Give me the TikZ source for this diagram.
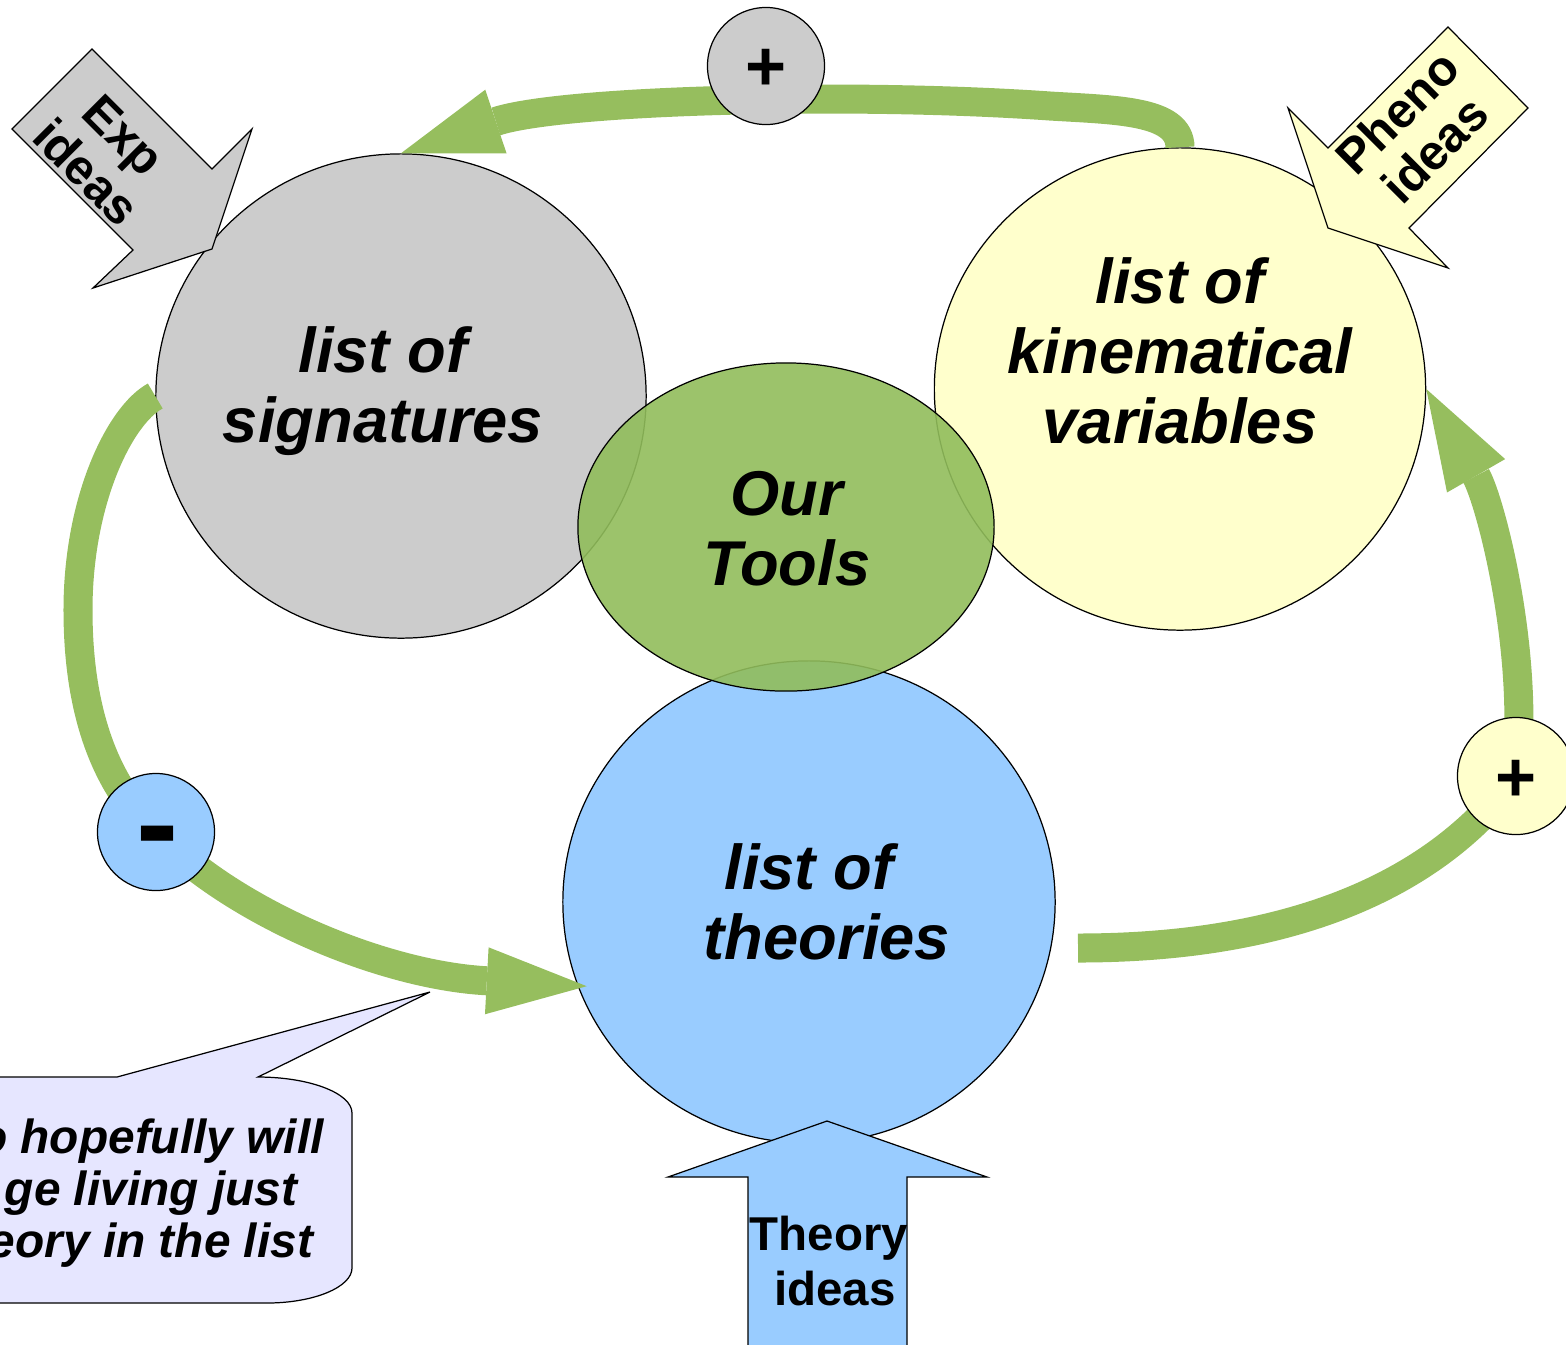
\documentclass[tikz,border=0pt]{standalone}
\usepackage{fontspec}
\setmainfont{Liberation Sans}
\usetikzlibrary{arrows.meta, shapes.geometric, positioning}
\definecolor{sigcol}{HTML}{CCCCCC}
\definecolor{kincol}{HTML}{FFFFCC}
\definecolor{theocol}{HTML}{99CCFF}
\definecolor{notecol}{HTML}{E6E6FF}
\definecolor{toolcol}{RGB}{145,189,91}
\definecolor{loopcol}{RGB}{150,190,94}
\tikzset{
  bigcirc/.style={
    ellipse, draw=black, line width=0.35pt, fill=#1, inner sep=0pt
  },
  bigtext/.style={
    align=center, inner sep=0pt,
    font=\fontsize{18}{20}\selectfont\bfseries\itshape
  },
  signnode/.style={
    circle, draw=black, line width=0.35pt, fill=#1,
    minimum size=1.17cm, inner sep=0pt
  },
  signtext/.style={
    inner sep=0pt, font=\fontsize{20}{24}\selectfont\bfseries
  },
  loopflow/.style={
    draw=loopcol, line width=0.29cm,
    -{Triangle[length=1cm, width=0.67cm, line width=0pt]}
  },
  ideabox/.style={draw=black, line width=0.35pt, fill=#1},
  ideatext/.style={
    align=center, inner sep=0pt,
    font=\fontsize{14}{15}\selectfont\bfseries
  },
}

\begin{document}
\begin{tikzpicture}[x=0.01cm, y=-0.01cm]
  \useasboundingbox (0,0) rectangle (1566,1344);
  \clip (0,0) rectangle (1566,1344);

  % the three lists
  \node[bigcirc=sigcol,  minimum width=4.90cm, minimum height=4.84cm] (sig)  at (401,396) {};
  \node[bigcirc=kincol,  minimum width=4.91cm, minimum height=4.82cm] (kin)  at (1180,389) {};
  \node[bigcirc=theocol, minimum width=4.92cm, minimum height=4.82cm] (theo) at (809,902) {};
  \node[bigcirc=toolcol, fill opacity=0.9, minimum width=4.16cm, minimum height=3.28cm] (tools) at (786,527) {};

  \node[bigtext] (sigtext)   at (383,391)  {list of\\signatures};
  \node[bigtext] (kintext)   at (1180,351) {list of\\kinematical\\variables};
  \node[bigtext] (theotext)  at (818,902)  {list of\hspace*{0.18cm}\\\hspace*{0.18cm}theories};
  \node[bigtext] (tooltext)  at (787,529)  {Our\\Tools};

  % loop arrows
  \coordinate (topbend)   at (1050,106);
  \coordinate (theostart) at (1078,948);
  \draw[loopflow] (kin.north) .. controls (1180,110) and (1115,110) .. (topbend)
    .. controls (850,92) and (560,100) .. (sig.north);
  \draw[loopflow] (sig.west) .. controls (120,415) and (78,500) .. (78,610)
    .. controls (78,720) and (110,790) .. (156,832)
    .. controls (230,910) and (380,975) .. ([xshift=0.09cm]theo.200);
  \draw[loopflow] (theostart) .. controls (1300,948) and (1440,880) .. (1516,776)
    .. controls (1530,650) and (1490,500) .. (kin.east);

  % idea inputs
  \draw[ideabox=sigcol] (92,49) -- (212,169) -- (252,129) -- (212,249)
    -- (93,288) -- (133,250) -- (12,129) -- cycle;
  \draw[ideabox=kincol] (1448,27) -- (1528,108) -- (1409,228) -- (1448,268)
    -- (1328,228) -- (1288,108) -- (1328,148) -- cycle;
  \draw[ideabox=theocol] (827,1121) -- (987,1177) -- (907,1177) -- (907,1360)
    -- (748,1360) -- (748,1177) -- (668,1177) -- cycle;
  \node[ideatext, rotate=-45] (exptext)   at (105,154) {Exp\\ideas};
  \node[ideatext, rotate=45]  (phenotext) at (1416,131) {Pheno\\ideas};
  \node[ideatext, font=\fontsize{13.5}{15.4}\selectfont\bfseries] (theorytext) at (829,1261) {Theory\\\hspace*{0.12cm}ideas};

  % callout
  \draw[ideabox=notecol] (-20,1077) -- (117,1077) -- (430,992) -- (258,1077)
    .. controls (309,1077) and (352,1093) .. (352,1113) -- (352,1268)
    .. controls (352,1287) and (314,1303) .. (267,1303) -- (-20,1303) -- cycle;
  \node[align=center, inner sep=0pt, font=\fontsize{13.6}{14.8}\selectfont\bfseries\itshape]
    (notetext) at (151,1193) {o hopefully will\\ge living just\\eory in the list};

  % signs on the loop
  \node[signnode=sigcol]  (plustop)   at (766,66)   {};
  \node[signnode=kincol]  (plusright) at (1516,776) {};
  \node[signnode=theocol] (minus)     at (156,832)  {};
  \node[signtext] (plustoptext)   at ([yshift=-0.04cm]plustop.center)   {+};
  \node[signtext] (plusrighttext) at ([yshift=-0.05cm]plusright.center) {+};
  \node[signtext, font=\fontsize{36}{36}\selectfont\bfseries] (minustext) at ([xshift=0.02cm, yshift=-0.14cm]minus.center) {-};
\end{tikzpicture}
\end{document}
